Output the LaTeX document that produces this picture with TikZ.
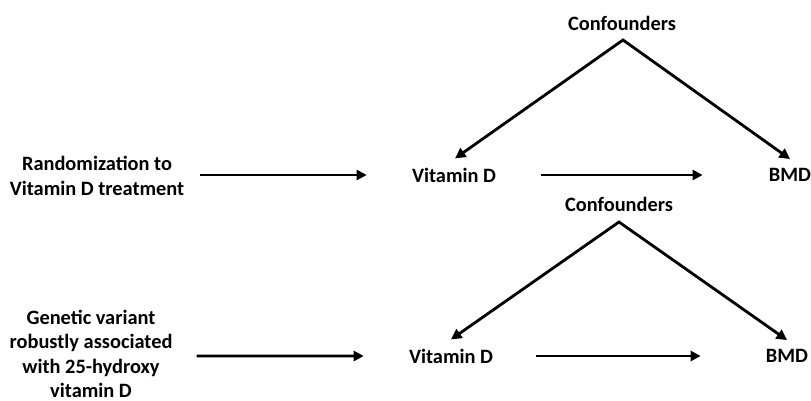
\documentclass[tikz,border=0pt]{standalone}
\usepackage{fontspec}
\setmainfont{Carlito}
\usetikzlibrary{arrows.meta}
\tikzset{
  lbl/.style={font=\fontsize{11.6}{14}\selectfont\bfseries, inner sep=0pt, text=black},
  arr/.style={line width=1.6pt, -{Triangle[length=0.2cm,width=0.2cm]}},
  darr/.style={line width=1.6pt, line join=miter, {Triangle[length=0.21cm,width=0.21cm]}-{Triangle[length=0.21cm,width=0.21cm]}}
}
\begin{document}
\begin{tikzpicture}[x=0.02cm,y=-0.02cm]
\useasboundingbox (0,0) rectangle (811,400);
% top panel
\node[lbl] (conf1) at (622,23) {Confounders};
\node[lbl] (vd1) at (454,175) {Vitamin D};
\node[lbl] (bmd1) at (790,175) {BMD};
\node[lbl, align=center] (rand) at (97,176) {Randomization to\\Vitamin D treatment};
\coordinate (apex1) at (623,40);
\draw[darr] ([xshift=0.02cm,yshift=0.18cm]vd1.north) -- (apex1) -- ([yshift=0.18cm]bmd1.north);
\draw[arr] ([xshift=0.3cm,yshift=0.02cm]rand.east) -- ([xshift=-0.9cm]vd1.west);
\draw[arr] ([xshift=0.9cm]vd1.east) -- ([xshift=-1.32cm]bmd1.west);
% bottom panel
\node[lbl] (conf2) at (619,204) {Confounders};
\node[lbl] (vd2) at (451,356) {Vitamin D};
\node[lbl] (bmd2) at (787,356) {BMD};
\node[lbl, align=center] (gen) at (91,354) {Genetic variant\\robustly associated\\with 25-hydroxy\\vitamin D};
\coordinate (apex2) at (619,222);
\draw[darr] ([yshift=0.18cm]vd2.north) -- (apex2) -- ([yshift=0.18cm]bmd2.north);
\draw[arr] ([xshift=0.48cm,yshift=-0.04cm]gen.east) -- ([xshift=-0.9cm]vd2.west);
\draw[arr] ([xshift=0.86cm]vd2.east) -- ([xshift=-1.3cm]bmd2.west);
\end{tikzpicture}
\end{document}
